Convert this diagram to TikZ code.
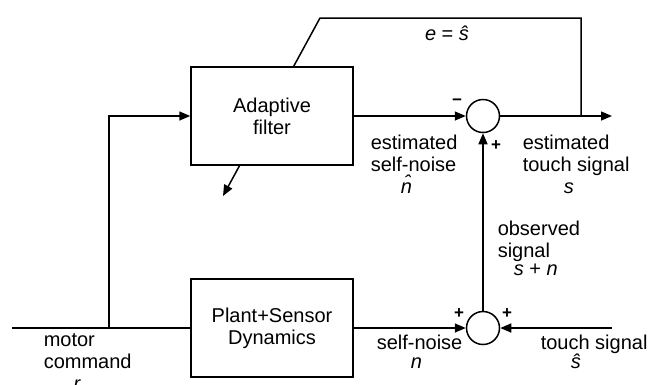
\documentclass[tikz,border=0pt]{standalone}
\usepackage{fontspec}
\setmainfont{Liberation Sans}
\usetikzlibrary{arrows.meta}

\begin{document}
\begin{tikzpicture}[x=1pt, y=-1pt, line width=1.5pt,
    font=\fontsize{20}{22}\selectfont,
    block/.style={draw, fill=white, minimum width=162pt, minimum height=98pt, align=center},
    sum/.style={draw, circle, fill=white, minimum size=33pt, inner sep=0pt},
    arr/.style={-{Triangle[length=11pt,width=9pt]}},
    sign/.style={font=\fontsize{17}{17}\selectfont\bfseries, inner sep=0pt},
    lbl/.style={align=left, anchor=base west, inner sep=0pt}]
    \useasboundingbox (0,0) rectangle (649,384);
    \clip (0,0) rectangle (649,384);

    % Feedback of the error to the filter (runs behind the filter box)
    \coordinate (tap) at (581,116);
    \coordinate (fbtop) at (581,18);
    \coordinate (fbcorner) at (320,18);
    \coordinate (fbend) at (223,196);
    \draw[arr] (tap) -- (fbtop) -- (fbcorner) -- (fbend);

    % Blocks and summing junctions
    \node[block] (adapt) at (272,116) {Adaptive\\filter};
    \node[block] (plant) at (272,328) {Plant+Sensor\\Dynamics};
    \node[sum] (sumtop) at (483,116) {};
    \node[sum] (sumbot) at (483,328) {};

    % Free ends
    \coordinate (in) at (12,328);
    \coordinate (branch) at (109,328);
    \coordinate (out) at (612,116);
    \coordinate (touch) at (612,328);

    % Signal lines
    \draw (in) -- (plant.west);
    \draw[arr] (branch) |- (adapt.west);
    \draw[arr] (adapt.east) -- (sumtop.west);
    \draw[arr] (sumtop.east) -- (out);
    \draw[arr] (plant.east) -- (sumbot.west);
    \draw[arr] (touch) -- (sumbot.east);
    \draw[arr] (sumbot.north) -- (sumtop.south);

    % Signs
    \node[sign] (mtop) at (457,102) {−};
    \node[sign] (ptop) at (496,146) {+};
    \node[sign] (pleft) at (459,314) {+};
    \node[sign] (pright) at (507,314) {+};

    % Labels (anchored at the baseline of their last line)
    \node[inner sep=0pt, anchor=base] (err) at (447,40) {\textit{e} = \textit{\^{s}}};
    \node[lbl] (nhat) at (370,193) {estimated\\self-noise\\\hspace*{30pt}\textit{\^{n}}};
    \node[lbl] (shat) at (522,193) {estimated\\touch signal\\\hspace*{41pt}\textit{s}};
    \node[lbl] (obs) at (497,275) {observed\\signal\\[-4pt]\hspace*{16pt}\textit{s} + \textit{n}};
    \node[lbl] (motor) at (43,390) {motor\\command\\\hspace*{30pt}\textit{r}};
    \node[lbl] (noise) at (376,368) {self-noise\\[-3pt]\hspace*{34pt}\textit{n}};
    \node[lbl] (tsig) at (540,368) {touch signal\\[-3pt]\hspace*{30pt}\textit{\^{s}}};
\end{tikzpicture}
\end{document}
